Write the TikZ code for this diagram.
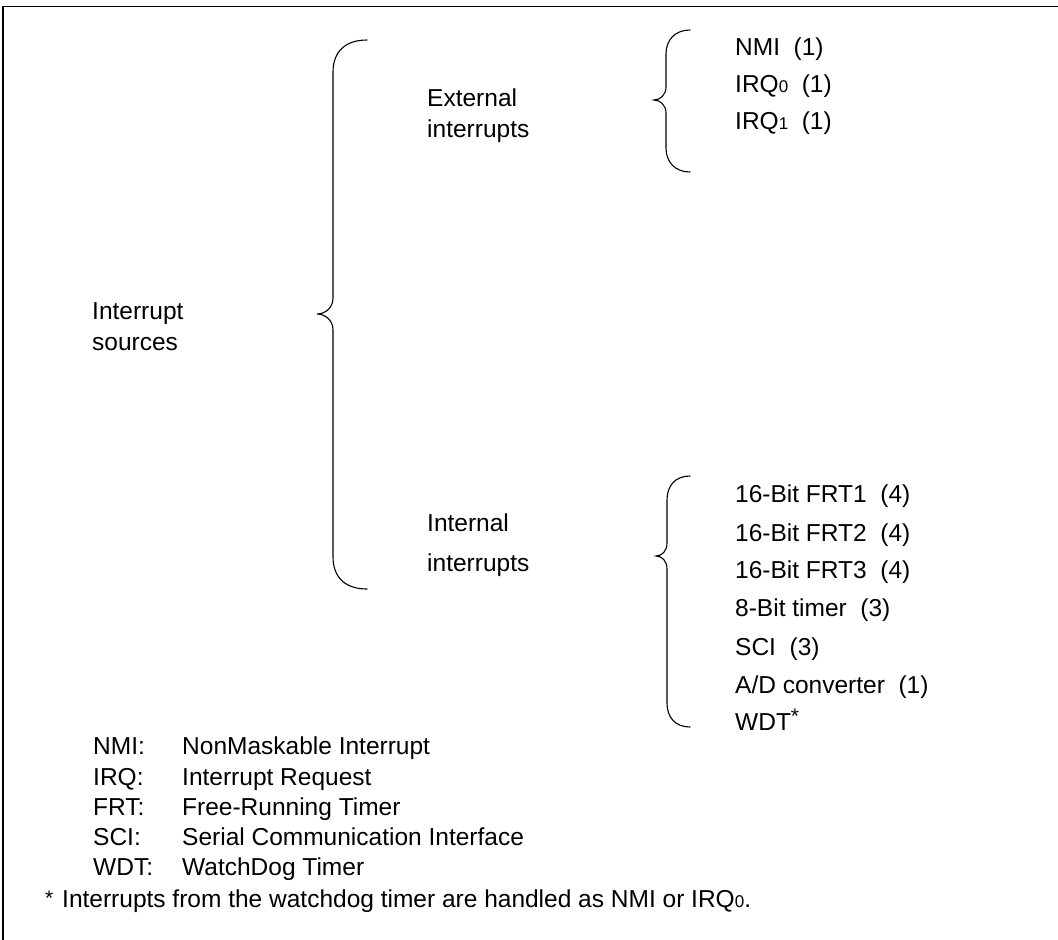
\documentclass[tikz,border=0pt]{standalone}
\usepackage{fontspec}
\setmainfont{Liberation Sans}
\newcommand{\sbs}[1]{{\fontsize{17}{17}\selectfont #1}}
\newcommand{\myast}{\raisebox{7pt}{\fontsize{21}{21}\selectfont *}}
\begin{document}
\begin{tikzpicture}[x=1pt,y=-1pt,
  lbl/.style={anchor=base west,inner sep=0pt,font=\fontsize{24.5}{28}\selectfont},
  brc/.style={line width=1.1pt,line cap=round}]
\useasboundingbox (0,0) rectangle (1058,940);
\draw[line width=1.4pt] (3,940) -- (3,6.5) -- (1058,6.5);
% main brace
\draw[brc] (367,40) .. controls (345,40) and (333,52) .. (333,72) -- (333,298)
  .. controls (333,308) and (325,314) .. (317,314)
  .. controls (325,314) and (333,320) .. (333,330) -- (333,557)
  .. controls (333,577) and (345,589) .. (367,589);
% external brace
\draw[brc] (690,30) .. controls (675,30) and (666,40) .. (666,54) -- (666,87)
  .. controls (666,95) and (660,100) .. (654,100)
  .. controls (660,100) and (666,105) .. (666,113) -- (666,148)
  .. controls (666,162) and (675,172) .. (690,172);
% internal brace
\draw[brc] (690,476) .. controls (675,476) and (667,486) .. (667,500) -- (667,543)
  .. controls (667,551) and (662,556) .. (656,556)
  .. controls (662,556) and (667,561) .. (667,569) -- (667,703)
  .. controls (667,717) and (675,727) .. (690,727);
\node[lbl] (is1) at (92,319) {Interrupt};
\node[lbl] (is2) at (92,350) {sources};
\node[lbl] (ex1) at (427,106) {External};
\node[lbl] (ex2) at (427,137) {interrupts};
\node[lbl] (in1) at (427,531) {Internal};
\node[lbl] (in2) at (427,571) {interrupts};
\node[lbl] (e1) at (735,55) {NMI\ \ (1)};
\node[lbl] (e2) at (735,92) {IRQ\sbs{0}\ \ (1)};
\node[lbl] (e3) at (735,129) {IRQ\sbs{1}\ \ (1)};
\node[lbl] (i1) at (735,502) {16-Bit FRT1\ \ (4)};
\node[lbl] (i2) at (735,541) {16-Bit FRT2\ \ (4)};
\node[lbl] (i3) at (735,578) {16-Bit FRT3\ \ (4)};
\node[lbl] (i4) at (735,616) {8-Bit timer\ \ (3)};
\node[lbl] (i5) at (735,655) {SCI\ \ (3)};
\node[lbl] (i6) at (735,693) {A/D converter\ \ (1)};
\node[lbl] (i7) at (735,730) {WDT\myast};
\node[lbl] (k1) at (93,754) {NMI:};
\node[lbl] (k2) at (93,785) {IRQ:};
\node[lbl] (k3) at (93,815) {FRT:};
\node[lbl] (k4) at (93,845) {SCI:};
\node[lbl] (k5) at (93,875) {WDT:};
\node[lbl] (d1) at (182,754) {NonMaskable Interrupt};
\node[lbl] (d2) at (182,785) {Interrupt Request};
\node[lbl] (d3) at (182,815) {Free-Running Timer};
\node[lbl] (d4) at (182,845) {Serial Communication Interface};
\node[lbl] (d5) at (182,875) {WatchDog Timer};
\node[lbl] (fs) at (45,905) {\fontsize{21}{21}\selectfont *};
\node[lbl] (ft) at (62,907) {Interrupts from the watchdog timer are handled as NMI or IRQ\sbs{0}.};
\end{tikzpicture}
\end{document}
